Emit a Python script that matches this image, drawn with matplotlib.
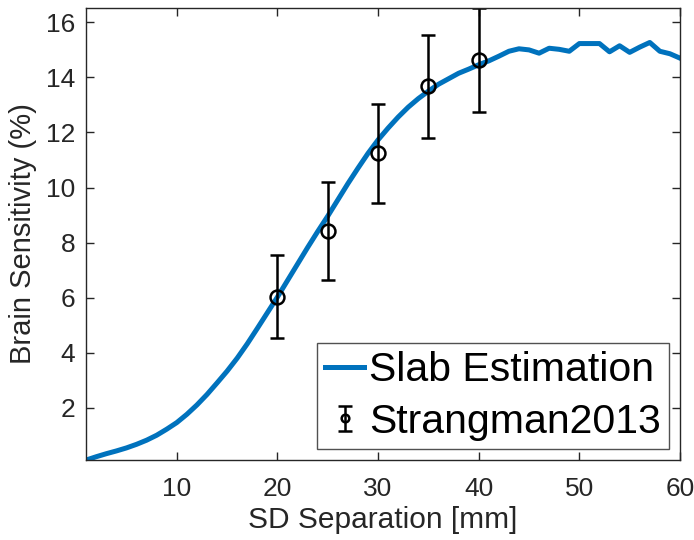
import matplotlib
matplotlib.use('Agg')
import matplotlib.pyplot as plt
from matplotlib.legend_handler import HandlerErrorbar
import numpy as np

plt.rcParams['font.family'] = ['Liberation Sans', 'DejaVu Sans']

# slab estimation curve (SD separation in mm, brain sensitivity in %)
sep_mm = np.arange(1, 61)
slab_sens = [0.1, 0.22, 0.33, 0.43, 0.54, 0.67, 0.82, 1.0, 1.22, 1.46,
             1.76, 2.1, 2.48, 2.9, 3.33, 3.8, 4.32, 4.88, 5.45, 6.02,
             6.62, 7.22, 7.82, 8.4, 8.96, 9.55, 10.14, 10.7, 11.24, 11.73,
             12.16, 12.56, 12.92, 13.23, 13.5, 13.75, 13.95, 14.15, 14.3, 14.46,
             14.6, 14.77, 14.95, 15.04, 15.0, 14.88, 15.06, 15.02, 14.95, 15.23,
             15.23, 15.23, 14.93, 15.15, 14.91, 15.1, 15.27, 14.95, 14.86, 14.7]

# Strangman 2013 measurements
ref_sep = [20, 25, 30, 35, 40]
ref_sens = [6.04, 8.42, 11.25, 13.67, 14.64]
ref_err = [1.5, 1.79, 1.8, 1.87, 1.88]

fig = plt.figure(figsize=(6.94, 5.40), dpi=100)
ax = fig.add_axes([0.1242, 0.1481, 0.8556, 0.837])

ax.plot(sep_mm, slab_sens, color='#0072BD', lw=3.6, label='Slab Estimation')
eb = ax.errorbar(ref_sep, ref_sens, yerr=ref_err, fmt='o', color='black',
                 mfc='none', ms=10, mew=1.8, elinewidth=1.8, capsize=5, capthick=1.8,
                 label='Strangman2013')

ax.set_xlim(1, 60)
ax.set_ylim(min(slab_sens), max(np.array(ref_sens) + np.array(ref_err)))
ax.set_xticks([10, 20, 30, 40, 50, 60])
ax.set_yticks([2, 4, 6, 8, 10, 12, 14, 16])

grey = '#262626'
for s in ax.spines.values():
    s.set_color(grey)
    s.set_linewidth(1.0)
ax.tick_params(direction='in', top=True, right=True, length=6, width=1.0,
               colors=grey, labelsize=19, pad=8)
ax.tick_params(axis='x', pad=12)

ax.set_xlabel('SD Separation [mm]', fontsize=21.5, color=grey, labelpad=4)
ax.set_ylabel('Brain Sensitivity (%)', fontsize=21, color=grey, labelpad=6)

leg = ax.legend(loc='lower right', fontsize=29.5, frameon=True, fancybox=False,
                edgecolor=grey, borderpad=0.2, labelspacing=0.33,
                handlelength=0.95, handletextpad=0.12, borderaxespad=0.27,
                markerscale=0.55,
                handler_map={type(eb): HandlerErrorbar(yerr_size=0.3)})
leg.get_frame().set_linewidth(1.0)

fig.savefig('out.png', dpi=100)
